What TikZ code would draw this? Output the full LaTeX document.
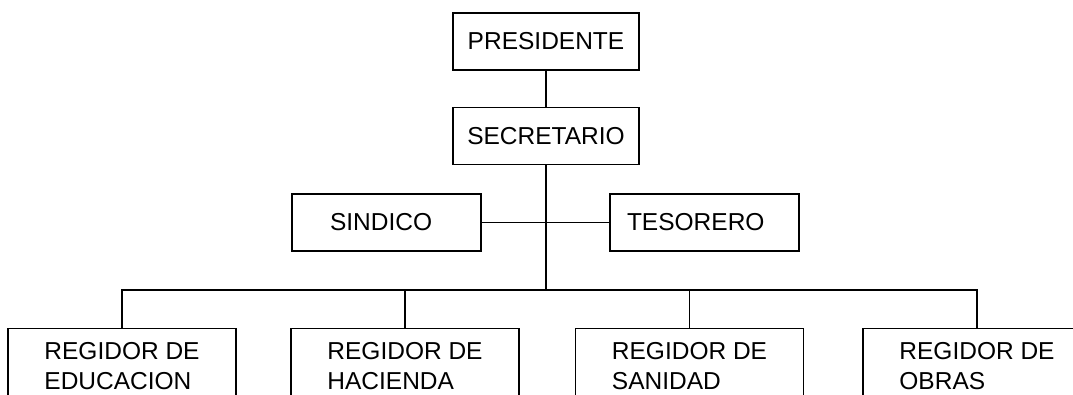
\documentclass[tikz,border=0pt]{standalone}
\usepackage{fontspec}
\setmainfont{Liberation Sans}
\usepackage{tikz}

\begin{document}
\begin{tikzpicture}[x=1pt, y=-1pt, line width=1.3pt, line join=miter,
    caja/.style={draw, font=\fontsize{24.5}{30}\selectfont, minimum height=57pt, inner sep=0pt},
    regidor/.style={draw, font=\fontsize{24.5}{30}\selectfont, align=left, anchor=north,
      minimum width=228pt, inner xsep=0pt, inner ysep=14pt}]
        % Marco (la fila de abajo queda cortada)
        \clip (0,0) rectangle (1073,395);

        % Cajas de arriba
        \node[caja, minimum width=186pt] (pres) at (546,41.5) {PRESIDENTE};
        \node[caja, minimum width=186pt] (secr) at (546,136) {SECRETARIO};
        \node[caja, align=left, text width=113pt, inner xsep=38pt] (sind) at (386.5,222.5) {SINDICO};
        \node[caja, align=left, text width=155pt, inner xsep=17pt] (teso) at (704.5,222.5) {TESORERO};

        % Regidores
        \node[regidor] (regA) at (122,328) {REGIDOR DE\\EDUCACION};
        \node[regidor] (regB) at (405,328) {REGIDOR DE\\HACIENDA};
        \node[regidor] (regC) at (689.5,328) {REGIDOR DE\\SANIDAD};
        \node[regidor] (regD) at (977,328) {REGIDOR DE\\OBRAS};

        \coordinate (bus) at (546,290);

        % Lineas
        \draw (pres.south) -- (secr.north);
        \draw (secr.south) -- (bus);
        \draw (sind.east) -- (teso.west);
        \draw (regA.north) |- (bus) -| (regD.north);
        \draw (regB.north) -- (regB.north |- bus);
        \draw (regC.north) -- (regC.north |- bus);
\end{tikzpicture}
\end{document}
